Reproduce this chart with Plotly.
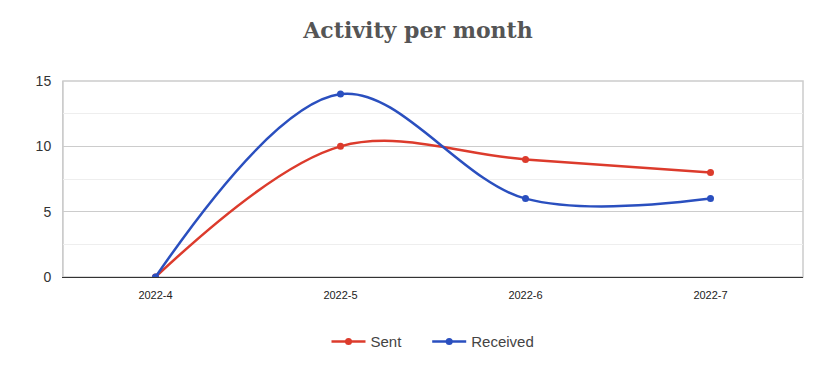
import plotly.graph_objects as go

months = ["2022-4", "2022-5", "2022-6", "2022-7"]
sent = [0, 10, 9, 8]
received = [0, 14, 6, 6]
y_ticks = [0, 5, 10, 15]

fig = go.Figure()
fig.add_trace(go.Scatter(x=months, y=sent, name="Sent" + "\u00a0" * 5, mode="lines+markers",
                         line=dict(color="#dc3b2c", width=2.5, shape="spline", smoothing=1),
                         marker=dict(size=7, color="#dc3b2c")))
fig.add_trace(go.Scatter(x=months, y=received, name="Received", mode="lines+markers",
                         line=dict(color="#2a4fbf", width=2.5, shape="spline", smoothing=1),
                         marker=dict(size=7, color="#2a4fbf")))

fig.update_layout(
    width=820, height=378,
    margin=dict(l=55, r=25, t=73, b=109, autoexpand=False),
    paper_bgcolor="white", plot_bgcolor="white",
    title=dict(text="<b>Activity per month</b>", x=0.5, xanchor="center", y=0.94, yanchor="middle",
               font=dict(family="DejaVu Serif", size=22, color="#555555")),
    legend=dict(orientation="h", x=0.5, xanchor="center", y=-0.33, yanchor="middle",
                itemwidth=34,
                font=dict(family="Liberation Sans, Arial", size=15, color="#444444")),
    xaxis=dict(type="category", range=[-0.5, 3.5], showgrid=False, automargin=False,
               tickfont=dict(family="Liberation Sans, Arial", size=11, color="#222222"),
               showline=True, linecolor="#333333", linewidth=1, mirror=False, ticks="",
               ticklabelstandoff=8, zeroline=False),
    yaxis=dict(range=[0, 15], tickvals=y_ticks, showgrid=True, gridcolor="#cccccc", gridwidth=1,
               automargin=False, ticklabelstandoff=8,
               tickfont=dict(family="Liberation Sans, Arial", size=14, color="#333333"),
               showline=True, linecolor="#cccccc", mirror=False, zeroline=False, ticks="",
               minor=dict(dtick=2.5, tick0=0, showgrid=True, gridcolor="#eeeeee")),
)
fig.add_shape(type="rect", xref="paper", yref="paper", x0=0, x1=1, y0=0, y1=1,
              line=dict(color="#cccccc", width=1.5), layer="below")
fig.write_html("out.html")
